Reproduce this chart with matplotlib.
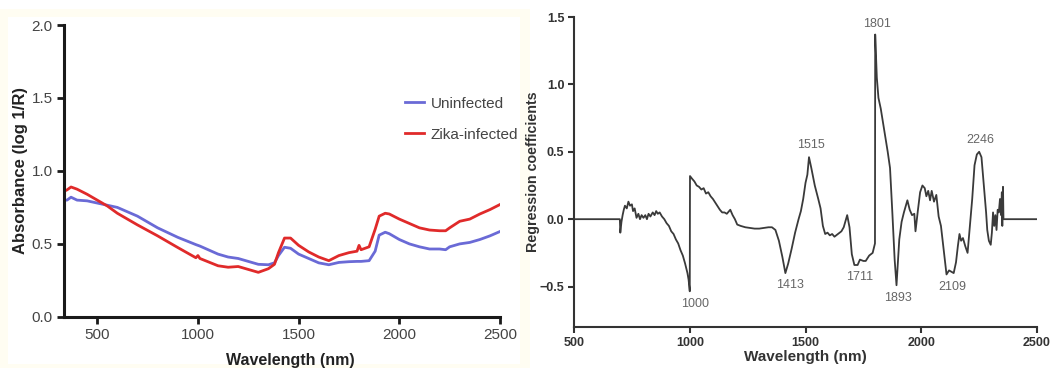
"""Two-panel NIR figure: absorbance spectra (left) and PLS regression
coefficients with labelled peaks (right). Output: out.png (1054x368)."""
import matplotlib

matplotlib.use("Agg")
import matplotlib.pyplot as plt
from matplotlib.patches import Rectangle

plt.rcParams["font.family"] = ["Liberation Sans", "DejaVu Sans"]

# ---- left panel: mean absorbance spectra ----
WL_ABS = [335, 350, 370, 400, 450, 500, 550, 600, 700, 800, 900, 990, 1000,
          1010, 1100, 1150, 1200, 1250, 1300, 1350, 1380, 1400, 1430, 1460,
          1500, 1550, 1600, 1650, 1700, 1750, 1790, 1800, 1810, 1850, 1880,
          1900, 1930, 1950, 2000, 2050, 2100, 2150, 2200, 2230, 2250, 2300,
          2350, 2400, 2450, 2500]
UNINFECTED = [0.80, 0.80, 0.82, 0.80, 0.795, 0.78, 0.765, 0.75, 0.69, 0.61,
              0.545, 0.495, 0.49, 0.485, 0.43, 0.41, 0.40, 0.38, 0.36, 0.357,
              0.37, 0.42, 0.477, 0.47, 0.43, 0.40, 0.37, 0.357, 0.373, 0.378,
              0.38, 0.38, 0.38, 0.385, 0.45, 0.56, 0.58, 0.57, 0.53, 0.50,
              0.48, 0.465, 0.465, 0.46, 0.48, 0.50, 0.51, 0.53, 0.555, 0.585]
ZIKA = [0.86, 0.87, 0.89, 0.875, 0.84, 0.80, 0.76, 0.71, 0.63, 0.555, 0.475,
        0.405, 0.42, 0.40, 0.35, 0.34, 0.345, 0.325, 0.305, 0.33, 0.36, 0.44,
        0.54, 0.54, 0.49, 0.445, 0.41, 0.385, 0.42, 0.44, 0.45, 0.49, 0.46,
        0.48, 0.60, 0.69, 0.71, 0.705, 0.67, 0.64, 0.61, 0.595, 0.59, 0.59,
        0.61, 0.655, 0.67, 0.705, 0.735, 0.77]

# ---- right panel: regression coefficients ----
WL_REG = [500, 698, 700, 705, 710, 715, 720, 728, 735, 742, 750, 755, 762, 770,
          778, 785, 792, 800, 808, 815, 822, 830, 840, 848, 855, 862, 870, 880,
          890, 900, 910, 920, 930, 940, 950, 960, 970, 980, 990, 995, 1000,
          1001, 1010, 1020, 1030, 1040, 1050, 1060, 1070, 1080, 1090, 1100,
          1115, 1130, 1140, 1150, 1160, 1175, 1185, 1195, 1205, 1220, 1240,
          1260, 1280, 1300, 1320, 1340, 1355, 1370, 1385, 1400, 1413, 1425,
          1440, 1455, 1470, 1480, 1490, 1500, 1508, 1515, 1525, 1540, 1555,
          1565, 1575, 1585, 1595, 1605, 1615, 1625, 1640, 1655, 1665, 1680,
          1690, 1700, 1711, 1725, 1735, 1750, 1760, 1775, 1790, 1800, 1801,
          1808, 1815, 1825, 1840, 1855, 1865, 1875, 1885, 1893, 1905, 1915,
          1925, 1940, 1950, 1960, 1970, 1975, 1985, 1995, 2005, 2015, 2022,
          2030, 2038, 2045, 2055, 2065, 2075, 2085, 2095, 2109, 2120, 2130,
          2140, 2150, 2158, 2165, 2172, 2180, 2190, 2200, 2210, 2220, 2230,
          2240, 2250, 2260, 2270, 2280, 2285, 2292, 2300, 2305, 2310, 2315,
          2320, 2325, 2330, 2335, 2340, 2345, 2348, 2350, 2353, 2355, 2500]
COEF = [0, 0, -0.10, -0.02, 0.03, 0.07, 0.10, 0.08, 0.13, 0.10, 0.11, 0.06,
        0.08, 0.01, 0.04, 0.00, 0.03, 0.01, 0.03, 0.00, 0.04, 0.02, 0.05, 0.03,
        0.06, 0.04, 0.05, 0.02, 0.00, -0.03, -0.05, -0.09, -0.11, -0.15, -0.18,
        -0.23, -0.27, -0.33, -0.40, -0.45, -0.535, 0.32, 0.30, 0.28, 0.25,
        0.24, 0.22, 0.23, 0.19, 0.20, 0.17, 0.15, 0.11, 0.07, 0.05, 0.05, 0.04,
        0.07, 0.03, 0.00, -0.04, -0.05, -0.06, -0.065, -0.07, -0.07, -0.065,
        -0.06, -0.06, -0.08, -0.16, -0.28, -0.40, -0.33, -0.22, -0.10, 0.00,
        0.06, 0.15, 0.27, 0.33, 0.46, 0.38, 0.25, 0.15, 0.08, -0.05, -0.11,
        -0.10, -0.12, -0.11, -0.13, -0.11, -0.09, -0.06, 0.03, -0.06, -0.26,
        -0.34, -0.34, -0.30, -0.31, -0.31, -0.27, -0.25, -0.18, 1.37, 1.05,
        0.90, 0.82, 0.66, 0.50, 0.38, 0.05, -0.30, -0.49, -0.15, -0.02, 0.05,
        0.14, 0.07, 0.03, 0.04, -0.09, 0.06, 0.20, 0.25, 0.23, 0.17, 0.21, 0.14,
        0.21, 0.13, 0.18, 0.02, -0.05, -0.20, -0.41, -0.38, -0.39, -0.40, -0.32,
        -0.20, -0.11, -0.16, -0.14, -0.20, -0.25, -0.05, 0.15, 0.40, 0.48, 0.50,
        0.46, 0.25, 0.05, -0.08, -0.16, -0.19, -0.10, 0.05, -0.05, 0.03, -0.08,
        0.07, 0.05, 0.15, 0.03, 0.20, -0.05, 0.24, 0.0, 0]

PEAK_LABELS = ["1000", "1413", "1515", "1711", "1801", "1893", "2109", "2246"]
PEAK_X = [1023, 1431, 1525, 1735, 1807, 1900, 2132, 2254]
PEAK_Y = [-0.63, -0.485, 0.55, -0.43, 1.45, -0.585, -0.50, 0.585]

BLUE = "#6a6ad6"
RED = "#e02a2a"
INK = "#1a1a1a"
GREY_TXT = "#444444"


def main():
    fig = plt.figure(figsize=(10.54, 3.68), dpi=100)

    # faint cream frame round the left sub-figure, as in the source scan
    fig.patches.append(Rectangle((0.0, 0.0), 0.503, 0.975, transform=fig.transFigure,
                                 facecolor="#fffdf2", edgecolor="none", zorder=-2))
    fig.patches.append(Rectangle((0.008, 0.01), 0.485, 0.945, transform=fig.transFigure,
                                 facecolor="white", edgecolor="none", zorder=-1))

    # left panel
    ax1 = fig.add_axes([0.0607, 0.139, 0.4137, 0.793])
    ax1.patch.set_alpha(0)
    ax1.plot(WL_ABS, UNINFECTED, color=BLUE, lw=2.0, label="Uninfected")
    ax1.plot(WL_ABS, ZIKA, color=RED, lw=2.0, label="Zika-infected")
    ax1.set_xlim(335, 2500)
    ax1.set_ylim(0, 2.0)
    ax1.set_xticks([500, 1000, 1500, 2000, 2500])
    ax1.set_yticks([0.0, 0.5, 1.0, 1.5, 2.0])
    ax1.set_yticklabels(["0.0", "0.5", "1.0", "1.5", "2.0"])
    for s in ["top", "right"]:
        ax1.spines[s].set_visible(False)
    for s in ["left", "bottom"]:
        ax1.spines[s].set_linewidth(2.2)
        ax1.spines[s].set_color(INK)
    ax1.tick_params(direction="out", length=5, width=2, color=INK,
                    labelsize=11, labelcolor=GREY_TXT, pad=3)
    ax1.set_xlabel("Wavelength (nm)", fontsize=11.5, fontweight="bold",
                   color="#222222")
    ax1.xaxis.set_label_coords(0.52, -0.125)
    ax1.set_ylabel("Absorbance (log 1/R)", fontsize=12, fontweight="bold",
                   color="#222222", labelpad=3)
    leg = ax1.legend(loc="upper left", bbox_to_anchor=(0.767, 0.775), frameon=False,
                     fontsize=11, handlelength=1.3, handletextpad=0.4,
                     labelspacing=1.1, borderaxespad=0)
    for t in leg.get_texts():
        t.set_color(GREY_TXT)

    # right panel
    ax2 = fig.add_axes([0.5446, 0.1114, 0.4393, 0.8424])
    ax2.plot(WL_REG, COEF, color="#3a3a3a", lw=1.3)
    for lab, x, y in zip(PEAK_LABELS, PEAK_X, PEAK_Y):
        ax2.text(x, y, lab, ha="center", va="center", fontsize=9, color="#666666")
    ax2.set_xlim(500, 2500)
    ax2.set_ylim(-0.8, 1.5)
    ax2.set_xticks([500, 1000, 1500, 2000, 2500])
    ax2.set_yticks([-0.5, 0.0, 0.5, 1.0, 1.5])
    ax2.set_yticklabels(["\u22120.5", "0.0", "0.5", "1.0", "1.5"])
    for s in ["top", "right"]:
        ax2.spines[s].set_visible(False)
    for s in ["left", "bottom"]:
        ax2.spines[s].set_linewidth(1.5)
        ax2.spines[s].set_color("#333333")
    ax2.tick_params(direction="out", length=4, width=1.5, color="#333333",
                    labelsize=9, pad=3)
    for t in ax2.get_xticklabels() + ax2.get_yticklabels():
        t.set_fontweight("bold")
        t.set_color("#333333")
    ax2.set_xlabel("Wavelength (nm)", fontsize=11, fontweight="bold",
                   color="#333333", labelpad=1)
    ax2.set_ylabel("Regression coefficients", fontsize=10.3, fontweight="bold",
                   color="#333333", labelpad=0)

    fig.savefig("out.png", dpi=100)


if __name__ == "__main__":
    main()
